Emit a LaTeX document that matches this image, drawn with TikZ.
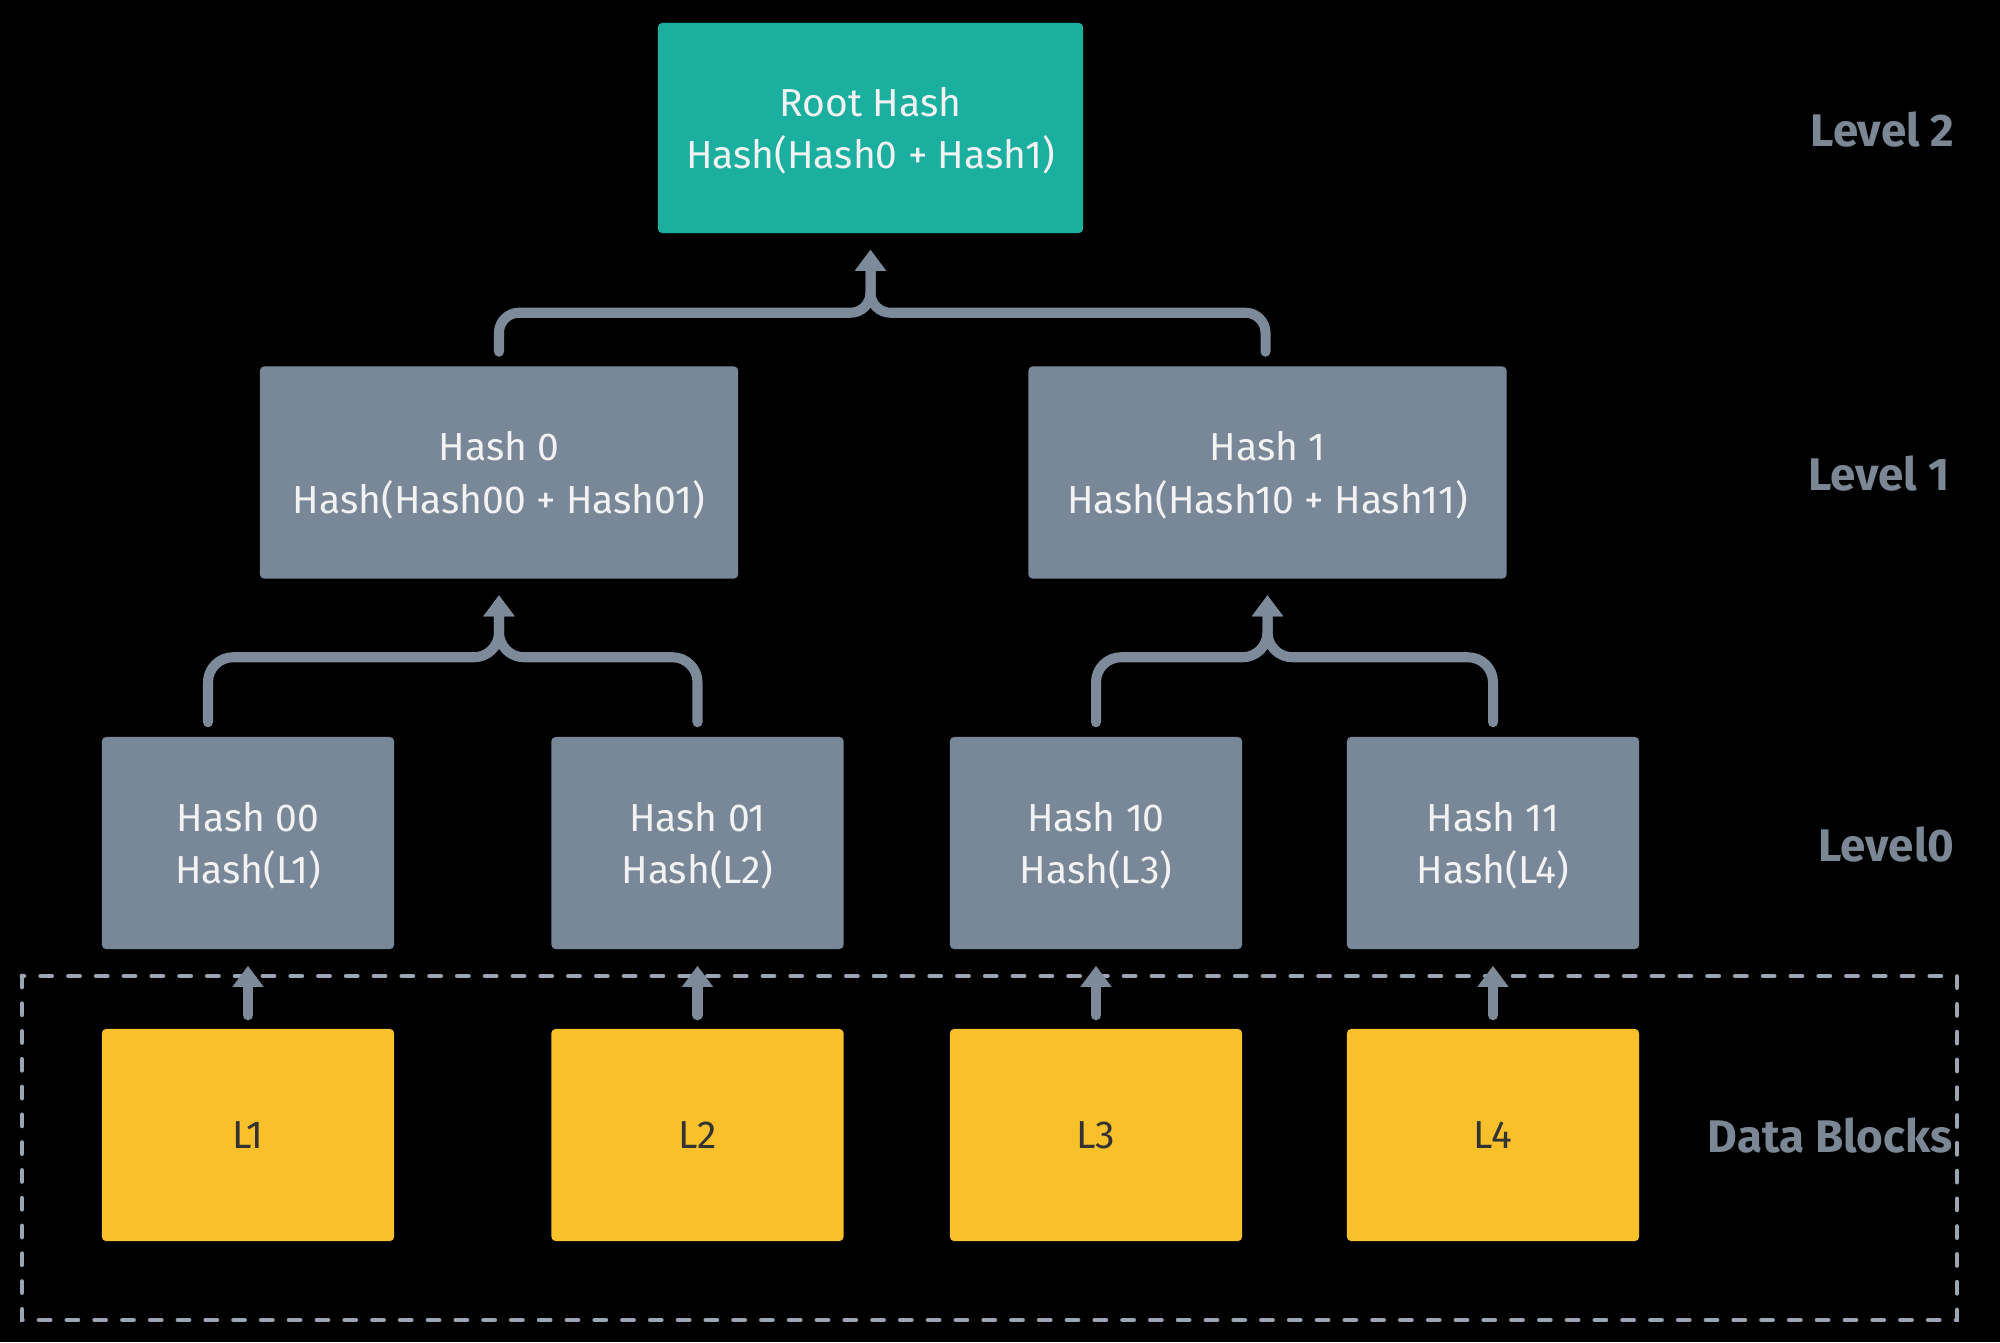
\documentclass[tikz,border=0pt]{standalone}
\usepackage{fontspec}
\setmainfont{Fira Sans}
\usetikzlibrary{arrows.meta}

\definecolor{rootcol}{HTML}{1BAFA0}
\definecolor{hashcol}{HTML}{788898}
\definecolor{datacol}{HTML}{F8C12B}
\definecolor{linkcol}{HTML}{7D8A99}
\definecolor{framecol}{HTML}{9BA6B2}
\definecolor{lvlcol}{HTML}{7B8794}

\begin{document}
\begin{tikzpicture}[x=0.01cm,y=-0.01cm,
    box/.style={rectangle,rounded corners=1.2pt,inner sep=0pt,align=center,text depth=0pt,
        font=\fontsize{11.1}{15}\selectfont,text=white!95!black},
    hashbox/.style={box,fill=hashcol,minimum width=2.92cm,minimum height=2.12cm},
    databox/.style={box,fill=datacol,text=black!80,minimum width=2.92cm,minimum height=2.12cm},
    lvl/.style={anchor=east,inner sep=0pt,text=lvlcol,font=\fontsize{13}{15}\selectfont\bfseries},
    link/.style={draw=linkcol,line width=2.85pt,line cap=round,
        -{Triangle[width=8.5pt,length=6pt]}},
    frame/.style={draw=framecol,line width=1.4pt,line cap=round,dash pattern=on 3.1pt off 4.8pt}]
    \fill[black] (0,0) rectangle (2000,1342);

    \begin{scope}
        \node[box,fill=rootcol,minimum width=4.25cm,minimum height=2.1cm] (root) at (870.5,128) {Root Hash\\Hash(Hash0 + Hash1)};

        \node[hashbox,minimum width=4.78cm] (h0) at (499,472.5) {Hash 0\\Hash(Hash00 + Hash01)};
        \node[hashbox,minimum width=4.78cm] (h1) at (1267.5,472.5) {Hash 1\\Hash(Hash10 + Hash11)};

        \node[hashbox] (h00) at (248,843) {Hash 00\\Hash(L1)};
        \node[hashbox] (h01) at (697.5,843) {Hash 01\\Hash(L2)};
        \node[hashbox] (h10) at (1096,843) {Hash 10\\Hash(L3)};
        \node[hashbox] (h11) at (1493,843) {Hash 11\\Hash(L4)};

        \node[databox] (d1) at (248,1135) {L1};
        \node[databox] (d2) at (697.5,1135) {L2};
        \node[databox] (d3) at (1096,1135) {L3};
        \node[databox] (d4) at (1493,1135) {L4};
    \end{scope}

    \node[lvl] (lvl2) at (1955,130) {Level 2};
    \node[lvl] (lvl1) at (1950,474) {Level 1};
    \node[lvl] (lvl0) at (1955,845) {Level0};
    \node[lvl] (lvldata) at (1953,1136) {Data Blocks};

    \draw[frame] (22,976) rectangle (1957,1320);

    \begin{scope}[rounded corners=0.2cm]
        \draw[link] ([shift={(0,-14)}]h0.north) -- ++(0,-39) -| ([shift={(0,16)}]root.south);
        \draw[link] ([shift={(-2,-14)}]h1.north) -- ++(0,-39) -| ([shift={(0,16)}]root.south);
    \end{scope}
    \begin{scope}[rounded corners=0.25cm]
        \draw[link] ([shift={(-40,-14)}]h00.north) -- ++(0,-65) -| ([shift={(0,16)}]h0.south);
        \draw[link] ([shift={(0,-14)}]h01.north) -- ++(0,-65) -| ([shift={(0,16)}]h0.south);
        \draw[link] ([shift={(0,-14)}]h10.north) -- ++(0,-65) -| ([shift={(0,16)}]h1.south);
        \draw[link] ([shift={(0,-14)}]h11.north) -- ++(0,-65) -| ([shift={(0,16)}]h1.south);
    \end{scope}

    \draw[link] ([shift={(0,-13)}]d1.north) -- ([shift={(0,16)}]h00.south);
    \draw[link] ([shift={(0,-13)}]d2.north) -- ([shift={(0,16)}]h01.south);
    \draw[link] ([shift={(0,-13)}]d3.north) -- ([shift={(0,16)}]h10.south);
    \draw[link] ([shift={(0,-13)}]d4.north) -- ([shift={(0,16)}]h11.south);
\end{tikzpicture}
\end{document}
